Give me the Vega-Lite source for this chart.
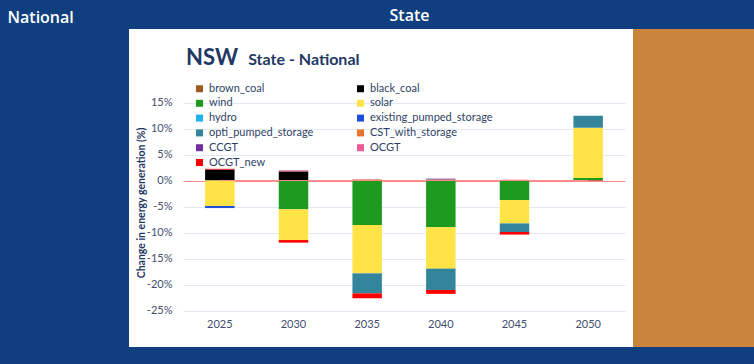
{
  "$schema": "https://vega.github.io/schema/vega-lite/v6.json",
  "width": 754,
  "height": 318,
  "autosize": {"type": "none"},
  "padding": {"left": 0, "right": 0, "top": 29, "bottom": 17},
  "background": "#0F3F7E",
  "config": {
    "font": "Lato",
    "view": {
      "stroke": null,
      "fill": {
        "gradient": "linear", "x1": 0, "y1": 0, "x2": 1, "y2": 0,
        "stops": [
          {"offset": 0, "color": "#0F3F7E"},
          {"offset": 0.1711, "color": "#0F3F7E"},
          {"offset": 0.1711, "color": "#FFFFFF"},
          {"offset": 0.8395, "color": "#FFFFFF"},
          {"offset": 0.8395, "color": "#C8843A"},
          {"offset": 1, "color": "#C8843A"}
        ]
      }
    }
  },
  "title": {
    "text": "NSW",
    "anchor": "start",
    "frame": "group",
    "offset": -63,
    "dx": 186,
    "fontSize": 22,
    "fontWeight": "bold",
    "color": "#1F3864",
    "font": "Lato"
  },
  "layer": [
    {
      "data": {
        "values": [
          {"year": "2025", "tech": "black_coal", "ord": 2, "v": 2.1},
          {"year": "2025", "tech": "OCGT_new", "ord": 11, "v": 0.15},
          {"year": "2025", "tech": "solar", "ord": 4, "v": -4.9},
          {"year": "2025", "tech": "existing_pumped_storage", "ord": 6, "v": -0.4},
          {"year": "2030", "tech": "black_coal", "ord": 2, "v": 1.75},
          {"year": "2030", "tech": "OCGT", "ord": 10, "v": 0.2},
          {"year": "2030", "tech": "wind", "ord": 3, "v": -5.55},
          {"year": "2030", "tech": "solar", "ord": 4, "v": -5.9},
          {"year": "2030", "tech": "OCGT_new", "ord": 11, "v": -0.5},
          {"year": "2035", "tech": "CST_with_storage", "ord": 8, "v": 0.2},
          {"year": "2035", "tech": "OCGT", "ord": 10, "v": 0.05},
          {"year": "2035", "tech": "wind", "ord": 3, "v": -8.55},
          {"year": "2035", "tech": "solar", "ord": 4, "v": -9.3},
          {"year": "2035", "tech": "opti_pumped_storage", "ord": 7, "v": -3.85},
          {"year": "2035", "tech": "OCGT_new", "ord": 11, "v": -0.95},
          {"year": "2040", "tech": "CST_with_storage", "ord": 8, "v": 0.2},
          {"year": "2040", "tech": "CCGT", "ord": 9, "v": 0.15},
          {"year": "2040", "tech": "wind", "ord": 3, "v": -9.0},
          {"year": "2040", "tech": "solar", "ord": 4, "v": -7.95},
          {"year": "2040", "tech": "opti_pumped_storage", "ord": 7, "v": -4.1},
          {"year": "2040", "tech": "OCGT_new", "ord": 11, "v": -0.75},
          {"year": "2045", "tech": "CST_with_storage", "ord": 8, "v": 0.1},
          {"year": "2045", "tech": "OCGT", "ord": 10, "v": 0.05},
          {"year": "2045", "tech": "wind", "ord": 3, "v": -3.75},
          {"year": "2045", "tech": "solar", "ord": 4, "v": -4.5},
          {"year": "2045", "tech": "opti_pumped_storage", "ord": 7, "v": -1.65},
          {"year": "2045", "tech": "OCGT_new", "ord": 11, "v": -0.5},
          {"year": "2050", "tech": "wind", "ord": 3, "v": 0.5},
          {"year": "2050", "tech": "solar", "ord": 4, "v": 9.65},
          {"year": "2050", "tech": "opti_pumped_storage", "ord": 7, "v": 2.3},
          {"year": "2050", "tech": "OCGT_new", "ord": 11, "v": -0.1}
        ]
      },
      "mark": {"type": "bar"},
      "encoding": {
        "x": {
          "field": "year",
          "type": "ordinal",
          "scale": {"range": [183, 625], "paddingInner": 0.6, "paddingOuter": 0.3},
          "axis": {
            "orient": "bottom",
            "offset": -36.5,
            "domain": false,
            "ticks": false,
            "tickSize": 0,
            "grid": false,
            "labelPadding": 8,
            "labelAngle": 0,
            "labelFontSize": 11,
            "labelColor": "#3F4E6E",
            "title": "State - National",
            "titleX": 247.7,
            "titleY": -246.2,
            "titleAlign": "left",
            "titleBaseline": "alphabetic",
            "titleAngle": 0,
            "titleFontSize": 16,
            "titleFontWeight": "bold",
            "titleColor": "#1F3864"
          }
        },
        "y": {
          "field": "v",
          "type": "quantitative",
          "stack": "zero",
          "scale": {"domain": [-25, 15], "range": [281.5, 73.5], "nice": false, "zero": false},
          "axis": {
            "orient": "left",
            "offset": -183,
            "values": [-25, -20, -15, -10, -5, 0, 5, 10, 15],
            "labelExpr": "datum.value + '%'",
            "domain": false,
            "ticks": false,
            "tickSize": 0,
            "labelPadding": 11,
            "labelFontSize": 11,
            "labelColor": "#3F4E6E",
            "grid": true,
            "gridColor": {"condition": {"test": "datum.value === 0", "value": "#FF8C8C"}, "value": "#E3E9F3"},
            "title": "Change in energy generation (%)",
            "titleX": -42,
            "titleY": 173.5,
            "titleAngle": -90,
            "titleAlign": "center",
            "titleBaseline": "middle",
            "titleFontSize": 10.5,
            "titleFontWeight": "bold",
            "titleColor": "#1F3864"
          }
        },
        "color": {
          "field": "tech",
          "type": "nominal",
          "scale": {
            "domain": ["brown_coal", "black_coal", "wind", "solar", "hydro", "existing_pumped_storage", "opti_pumped_storage", "CST_with_storage", "CCGT", "OCGT", "OCGT_new"],
            "range": ["#9C5A21", "#000000", "#1E9A1E", "#FFE347", "#23B0EE", "#1F4ED8", "#33859C", "#E8732A", "#7030A0", "#EC5B93", "#FF0000"]
          },
          "legend": {
            "orient": "none",
            "direction": "horizontal",
            "legendX": 194,
            "legendY": 54,
            "columns": 2,
            "columnPadding": 41,
            "rowPadding": 2.8,
            "title": null,
            "padding": 0,
            "symbolType": "square",
            "symbolSize": 49,
            "symbolStrokeWidth": 0,
            "labelFontSize": 11,
            "labelColor": "#2F3F66",
            "labelOffset": 4
          }
        },
        "order": {"field": "ord", "type": "quantitative"}
      }
    },
    {
      "data": {"values": [{"v": 0}]},
      "mark": {"type": "rule", "color": "#FF8C8C", "strokeWidth": 1},
      "encoding": {
        "x": {
          "datum": "2025",
          "type": "ordinal",
          "axis": {
            "orient": "top",
            "offset": 0,
            "domain": false,
            "ticks": false,
            "labels": false,
            "grid": false,
            "title": "National",
            "titleX": 7,
            "titleY": -12,
            "titleAlign": "left",
            "titleBaseline": "middle",
            "titleAngle": 0,
            "titleFontSize": 16,
            "titleFontWeight": 600,
            "titleFont": "Open Sans",
            "titleColor": "#FFFFFF"
          }
        },
        "x2": {"datum": "2050"},
        "y": {
          "field": "v",
          "type": "quantitative",
          "axis": {
            "orient": "right",
            "offset": 0,
            "domain": false,
            "ticks": false,
            "labels": false,
            "grid": false,
            "title": "State",
            "titleX": -365,
            "titleY": -14,
            "titleAlign": "left",
            "titleBaseline": "middle",
            "titleAngle": 0,
            "titleFontSize": 16,
            "titleFontWeight": 600,
            "titleFont": "Open Sans",
            "titleColor": "#FFFFFF"
          }
        }
      }
    }
  ],
  "resolve": {"axis": {"x": "independent", "y": "independent"}}
}
